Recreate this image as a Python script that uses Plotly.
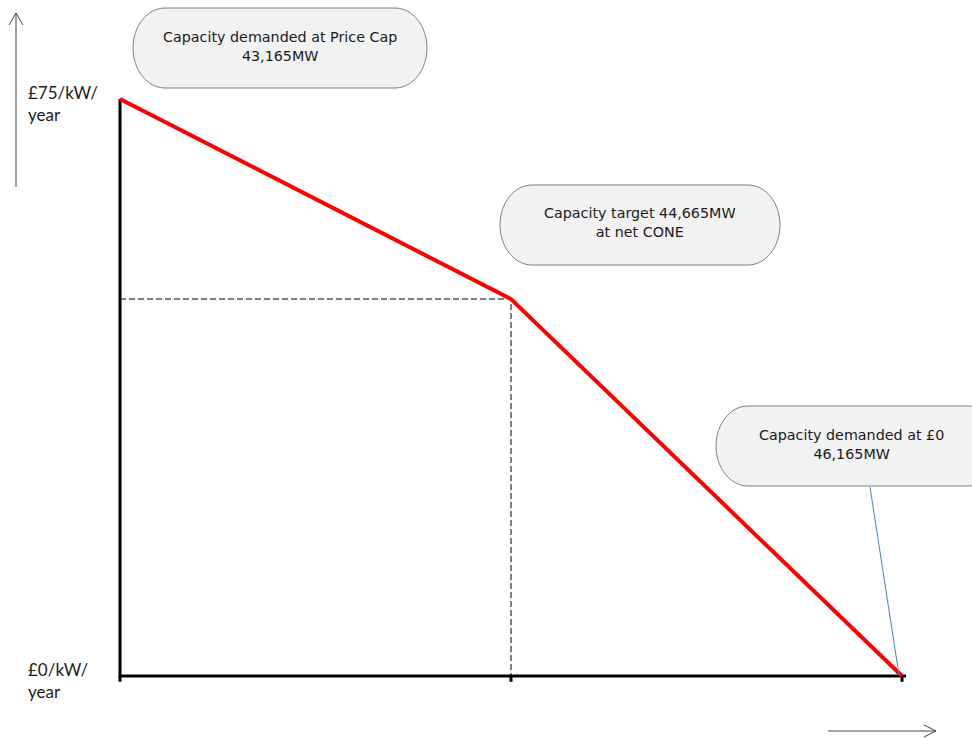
import plotly.graph_objects as go

# Demand curve points: capacity (MW) against clearing price (GBP/kW/year)
capacity_mw = [43165, 44665, 46165]
price_gbp = [75, 49, 0]

tick_capacity = [43165, 44665, 46165]
price_labels = ["£75/kW/<br>year", "£0/kW/<br>year"]
price_label_values = [75, 0]

callout_texts = [
    "Capacity demanded at Price Cap<br>43,165MW",
    "Capacity target 44,665MW<br>at net CONE",
    "Capacity demanded at £0<br>46,165MW",
]

W, H = 972, 738

# axis ranges chosen so the curve sits in the frame
x0, x1 = 42704.6, 46433.5
y0, y1 = -8.06, 87.87


def px(xpix):
    return xpix / W


def py(ypix):
    return 1 - ypix / H


def pill_path(left, top, right, bottom, rx, ry):
    """Rounded pill outline in paper coordinates (elliptical ends)."""
    k = 0.5523
    L, T, R, B = left, top, right, bottom
    cmds = [
        f"M {px(L + rx)} {py(T)}",
        f"L {px(R - rx)} {py(T)}",
        f"C {px(R - rx + k * rx)} {py(T)} {px(R)} {py(T + ry - k * ry)} {px(R)} {py(T + ry)}",
        f"L {px(R)} {py(B - ry)}",
        f"C {px(R)} {py(B - ry + k * ry)} {px(R - rx + k * rx)} {py(B)} {px(R - rx)} {py(B)}",
        f"L {px(L + rx)} {py(B)}",
        f"C {px(L + rx - k * rx)} {py(B)} {px(L)} {py(B - ry + k * ry)} {px(L)} {py(B - ry)}",
        f"L {px(L)} {py(T + ry)}",
        f"C {px(L)} {py(T + ry - k * ry)} {px(L + rx - k * rx)} {py(T)} {px(L + rx)} {py(T)}",
        "Z",
    ]
    return " ".join(cmds)


fig = go.Figure()

# dashed guides to the net CONE point
fig.add_trace(go.Scatter(
    x=[capacity_mw[0], capacity_mw[1], capacity_mw[1]],
    y=[price_gbp[1], price_gbp[1], 0],
    mode="lines", line=dict(color="black", width=1, dash="6px,3px"),
    hoverinfo="skip", showlegend=False,
))

# axes
fig.add_trace(go.Scatter(
    x=[capacity_mw[0], capacity_mw[0], capacity_mw[2] + 15],
    y=[price_gbp[0], 0, 0],
    mode="lines", line=dict(color="black", width=3),
    hoverinfo="skip", showlegend=False,
))
for xc in tick_capacity:
    fig.add_trace(go.Scatter(
        x=[xc, xc], y=[0, -0.75], mode="lines",
        line=dict(color="black", width=3),
        hoverinfo="skip", showlegend=False,
    ))

# demand curve
fig.add_trace(go.Scatter(
    x=capacity_mw, y=price_gbp, mode="lines",
    line=dict(color="#ff0000", width=4),
    hoverinfo="skip", showlegend=False,
))

shapes = []
annotations = []

# callout bubbles
boxes = [
    (133, 8, 427, 88, 280),
    (500, 185, 780, 265, 640),
    (716, 406, 1000, 486, 851),
]
for (L, T, R, B, cx), txt in zip(boxes, callout_texts):
    shapes.append(dict(
        type="path", xref="paper", yref="paper",
        path=pill_path(L, T, R, B, 32, 40),
        fillcolor="#f2f2f2", line=dict(color="#7f7f7f", width=1),
        layer="above",
    ))
    annotations.append(dict(
        x=px(cx), y=py((T + B) / 2 - 2), xref="paper", yref="paper",
        text=txt, showarrow=False,
        font=dict(family="DejaVu Sans", size=14.3, color="#1a1a1a"),
        align="center", xanchor="center", yanchor="middle",
    ))

# leader from the last callout to the zero-price point
shapes.append(dict(
    type="line", xref="paper", yref="paper",
    x0=px(870), y0=py(487), x1=px(899), y1=py(675),
    line=dict(color="#4f81bd", width=1), layer="above",
))

# direction arrows
arrow_col = "#404040"
shapes += [
    dict(type="line", xref="paper", yref="paper", x0=px(16), y0=py(187), x1=px(16), y1=py(13),
         line=dict(color=arrow_col, width=1)),
    dict(type="line", xref="paper", yref="paper", x0=px(16), y0=py(13), x1=px(9), y1=py(25),
         line=dict(color=arrow_col, width=1)),
    dict(type="line", xref="paper", yref="paper", x0=px(16), y0=py(13), x1=px(23), y1=py(25),
         line=dict(color=arrow_col, width=1)),
    dict(type="line", xref="paper", yref="paper", x0=px(828), y0=py(731), x1=px(936), y1=py(731),
         line=dict(color=arrow_col, width=1)),
    dict(type="line", xref="paper", yref="paper", x0=px(936), y0=py(731), x1=px(924), y1=py(725),
         line=dict(color=arrow_col, width=1)),
    dict(type="line", xref="paper", yref="paper", x0=px(936), y0=py(731), x1=px(924), y1=py(737),
         line=dict(color=arrow_col, width=1)),
]

# price labels on the left
for lab, val, shift in zip(price_labels, price_label_values, [-4, -5]):
    annotations.append(dict(
        x=px(26), y=val, xref="paper", yref="y", yshift=shift,
        text=lab, showarrow=False, align="left",
        xanchor="left", yanchor="middle",
        font=dict(family="Lato", size=17, color="#1a1a1a"),
    ))

fig.update_layout(
    width=W, height=H,
    margin=dict(l=0, r=0, t=0, b=0),
    paper_bgcolor="white", plot_bgcolor="white",
    xaxis=dict(range=[x0, x1], visible=False, fixedrange=True),
    yaxis=dict(range=[y0, y1], visible=False, fixedrange=True),
    shapes=shapes, annotations=annotations,
    showlegend=False,
)

fig.write_html("out.html")
